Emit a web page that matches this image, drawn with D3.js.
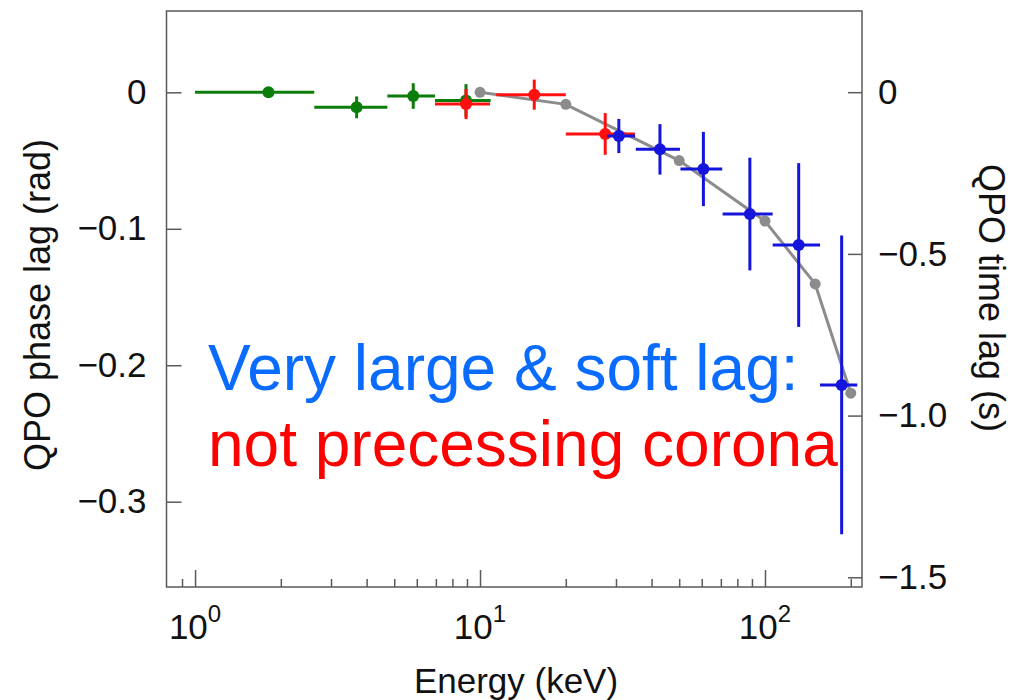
<!DOCTYPE html>
<html>
<head>
<meta charset="utf-8">
<script src="https://cdn.jsdelivr.net/npm/d3@7"></script>
<style>
  body { margin: 0; background: #fff; }
  svg { display: block; font-family: "Liberation Sans", Arial, Helvetica, sans-serif; }
</style>
</head>
<body>
<div id="chart"></div>
<script>
// Data (energy in keV, phase lag in rad)
const greenE   = [1.81, 3.69, 5.83, 8.93];
const greenLo  = [1.0, 2.62, 4.73, 6.95];
const greenHi  = [2.62, 4.73, 6.95, 10.9];
const greenLag = [0.0, -0.011, -0.0027, -0.006];
const greenErr = [0.0, 0.008, 0.0094, 0.012];

const redE   = [8.93, 15.5, 27.5];
const redLo  = [6.95, 11.4, 20.0];
const redHi  = [10.84, 20.0, 35.0];
const redLag = [-0.0086, -0.0017, -0.0305];
const redErr = [0.011, 0.011, 0.0153];

const blueE   = [30.7, 42.8, 60.8, 88.5, 131.3, 185.8];
const blueLo  = [28.0, 35.2, 50.5, 71.0, 106.4, 156.0];
const blueHi  = [35.0, 50.3, 70.8, 106.4, 156.0, 210.8];
const blueLag = [-0.032, -0.0418, -0.0562, -0.0892, -0.1119, -0.2144];
const blueErr = [0.0125, 0.0185, 0.0272, 0.0413, 0.060, 0.1095];

const modelE   = [10, 20, 50, 100, 150, 200];
const modelLag = [0.0, -0.0088, -0.050, -0.0943, -0.1404, -0.2205];

const phaseTicks = [0, -0.1, -0.2, -0.3];
const timeTicks = [0, -0.5, -1.0, -1.5];
const majorE = [1, 10, 100];
const minorE = [0.9, 2, 3, 4, 5, 6, 7, 8, 9, 20, 30, 40, 50, 60, 70, 80, 90, 200];

// Layout
const width = 1014;
const height = 700;
const plot = { left: 166.5, right: 862, top: 11, bottom: 587 };
const axisColor = "#5a5a5a";

const svg = d3.select("#chart")
    .append("svg")
    .attr("width", width)
    .attr("height", height);

const x = d3.scaleLog()
    .domain([0.794, 219])
    .range([plot.left, plot.right]);

const y = d3.scaleLinear()
    .domain([-0.3625, 0.0596])
    .range([plot.bottom, plot.top]);

const yTime = d3.scaleLinear()
    .domain([-1.530, 0.251])
    .range([plot.bottom, plot.top]);

const fmtMinus = d => d === 0 ? "0" : d3.format(".1f")(d).replace("-", "\u2212");

// Left axis
const gLeft = svg.append("g")
    .attr("transform", `translate(${plot.left},0)`)
    .call(d3.axisLeft(y).tickValues(phaseTicks).tickSize(-15).tickPadding(20).tickFormat(fmtMinus));

// Right axis
const gRight = svg.append("g")
    .attr("transform", `translate(${plot.right},0)`)
    .call(d3.axisRight(yTime).tickValues(timeTicks).tickSize(-14).tickPadding(16).tickFormat(fmtMinus));

// Bottom axis: major and minor ticks
const gMajor = svg.append("g")
    .attr("transform", `translate(0,${plot.bottom})`)
    .call(d3.axisBottom(x).tickValues(majorE).tickSize(-17).tickFormat(""));

const gMinor = svg.append("g")
    .attr("transform", `translate(0,${plot.bottom})`)
    .call(d3.axisBottom(x).tickValues(minorE).tickSize(-8).tickFormat(""));

[gLeft, gRight, gMajor, gMinor].forEach(g => {
    g.select(".domain").remove();
    g.selectAll(".tick line").attr("stroke", axisColor).attr("stroke-width", 1.5);
    g.selectAll(".tick text")
        .attr("fill", "#111")
        .style("font-size", "35px")
        .style("font-family", "'Liberation Sans', Arial, sans-serif");
});

// Bottom tick labels as 10^n
const expLabels = svg.append("g")
    .selectAll("text")
    .data(majorE)
    .join("text")
    .attr("x", d => x(d))
    .attr("y", 639)
    .attr("text-anchor", "middle")
    .attr("fill", "#111")
    .style("font-size", "35px");

expLabels.append("tspan").text("10");
expLabels.append("tspan")
    .attr("dy", -17)
    .style("font-size", "24px")
    .text(d => Math.round(Math.log10(d)));

// Frame
svg.append("rect")
    .attr("x", plot.left)
    .attr("y", plot.top)
    .attr("width", plot.right - plot.left)
    .attr("height", plot.bottom - plot.top)
    .attr("fill", "none")
    .attr("stroke", axisColor)
    .attr("stroke-width", 1.5);

// Axis titles
svg.append("text")
    .attr("transform", `translate(50,305) rotate(-90)`)
    .attr("text-anchor", "middle")
    .attr("fill", "#111")
    .style("font-size", "36px")
    .text("QPO phase lag (rad)");

svg.append("text")
    .attr("transform", `translate(979,298) rotate(90)`)
    .attr("text-anchor", "middle")
    .attr("fill", "#111")
    .style("font-size", "36px")
    .text("QPO time lag (s)");

svg.append("text")
    .attr("x", 516)
    .attr("y", 693)
    .attr("text-anchor", "middle")
    .attr("fill", "#111")
    .style("font-size", "35px")
    .text("Energy (keV)");

// Model curve
const line = d3.line()
    .x((d, i) => x(modelE[i]))
    .y(d => y(d));

svg.append("path")
    .datum(modelLag)
    .attr("d", line)
    .attr("fill", "none")
    .attr("stroke", "#8c8c8c")
    .attr("stroke-width", 3);

svg.append("g")
    .selectAll("circle")
    .data(modelLag)
    .join("circle")
    .attr("cx", (d, i) => x(modelE[i]))
    .attr("cy", d => y(d))
    .attr("r", 5.5)
    .attr("fill", "#8c8c8c");

// Data series with error bars
function drawSeries(E, lo, hi, lag, err, color) {
    const g = svg.append("g");
    const idx = d3.range(E.length);

    g.selectAll("line.h")
        .data(idx)
        .join("line")
        .attr("class", "h")
        .attr("x1", i => x(lo[i]))
        .attr("x2", i => x(hi[i]))
        .attr("y1", i => y(lag[i]))
        .attr("y2", i => y(lag[i]))
        .attr("stroke", color)
        .attr("stroke-width", 3);

    g.selectAll("line.v")
        .data(idx.filter(i => err[i] > 0))
        .join("line")
        .attr("class", "v")
        .attr("x1", i => x(E[i]))
        .attr("x2", i => x(E[i]))
        .attr("y1", i => y(lag[i] + err[i]))
        .attr("y2", i => y(lag[i] - err[i]))
        .attr("stroke", color)
        .attr("stroke-width", 3);

    g.selectAll("circle")
        .data(idx)
        .join("circle")
        .attr("cx", i => x(E[i]))
        .attr("cy", i => y(lag[i]))
        .attr("r", 6)
        .attr("fill", color);
}

drawSeries(greenE, greenLo, greenHi, greenLag, greenErr, "#0a7d0a");
drawSeries(redE, redLo, redHi, redLag, redErr, "#ff1010");
drawSeries(blueE, blueLo, blueHi, blueLag, blueErr, "#1414dc");

// Annotation
svg.append("text")
    .attr("x", 208)
    .attr("y", 390)
    .attr("fill", "#0a6cff")
    .style("font-size", "64px")
    .text("Very large & soft lag:");

svg.append("text")
    .attr("x", 208)
    .attr("y", 466)
    .attr("fill", "#ff0000")
    .style("font-size", "64px")
    .text("not precessing corona");
</script>
</body>
</html>
